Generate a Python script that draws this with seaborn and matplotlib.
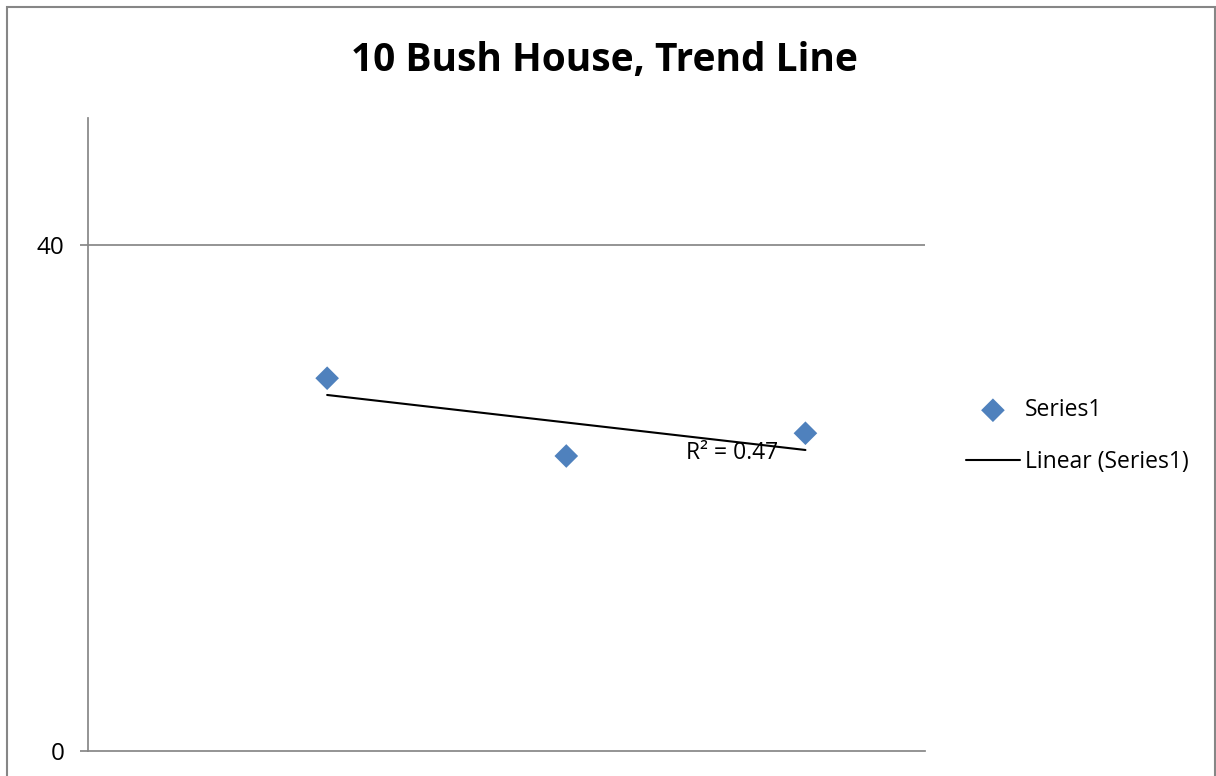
import numpy as np
import pandas as pd
import matplotlib
matplotlib.use("Agg")
import matplotlib.pyplot as plt
from matplotlib.patches import Rectangle
import seaborn as sns

# Readings for 10 Bush House
x_vals = [1, 2, 3]
y_vals = [29.45, 23.3, 25.1]
series_name = "Series1"
title = "10 Bush House, Trend Line"
y_ticks = [0, 40]

df = pd.DataFrame({"x": x_vals, "y": y_vals})

sns.set_theme(style="white")
plt.rcParams["font.family"] = ["Open Sans", "DejaVu Sans"]
plt.rcParams["text.color"] = "black"

blue = "#4F81BD"
grey = "#868686"

fig = plt.figure(figsize=(12.16, 7.76), dpi=100)
ax = fig.add_axes([88 / 1216, 1 - 750.7 / 776, (925 - 88) / 1216, (750.7 - 118.3) / 776])

sns.regplot(
    data=df, x="x", y="y", ax=ax, ci=None, truncate=True, marker="D",
    label=series_name,
    scatter_kws=dict(s=145, color=blue, edgecolor="none", alpha=1, zorder=3),
    line_kws=dict(color="black", lw=1.5, zorder=2, label=f"Linear ({series_name})"),
)

# coefficient of determination for the linear fit
slope, intercept = np.polyfit(df["x"], df["y"], 1)
pred = slope * df["x"] + intercept
r2 = 1 - ((df["y"] - pred) ** 2).sum() / ((df["y"] - df["y"].mean()) ** 2).sum()
ax.text(2.5, 23.08, f"R² = {r2:.2f}", fontsize=16.5, color="black", va="baseline", ha="left", zorder=4)

ax.set_xlim(0, 3.5)
ax.set_ylim(0, 50)
ax.set_yticks(y_ticks)
ax.set_xticks([])
ax.set_xlabel("")
ax.set_ylabel("")
ax.axhline(40, color=grey, lw=1.25, zorder=1)

for side in ["top", "right"]:
    ax.spines[side].set_visible(False)
for side in ["left", "bottom"]:
    ax.spines[side].set_color(grey)
    ax.spines[side].set_linewidth(1.25)

ax.tick_params(axis="y", which="major", left=True, length=6, width=1.25, color=grey,
               direction="out", labelsize=17.5, labelcolor="black", pad=11)

fig.suptitle(title, fontsize=28, fontweight="bold", color="black",
             x=604 / 1216, y=1 - 60 / 776, va="center")

handles, labels = ax.get_legend_handles_labels()
leg = fig.legend(handles, labels, loc="center left", bbox_to_anchor=(966 / 1216, 1 - 436 / 776),
                 frameon=False, fontsize=16.5, handlelength=2.35, handletextpad=0.22,
                 labelspacing=1.2, borderaxespad=0, borderpad=0)
for t in leg.get_texts():
    t.set_color("black")

fig.patches.append(Rectangle((7 / 1216, -0.05), (1214.5 - 7) / 1216, 1.05 - 7 / 776,
                             transform=fig.transFigure, fill=False, edgecolor=grey, lw=1.5))

fig.savefig("out.png", dpi=100)
